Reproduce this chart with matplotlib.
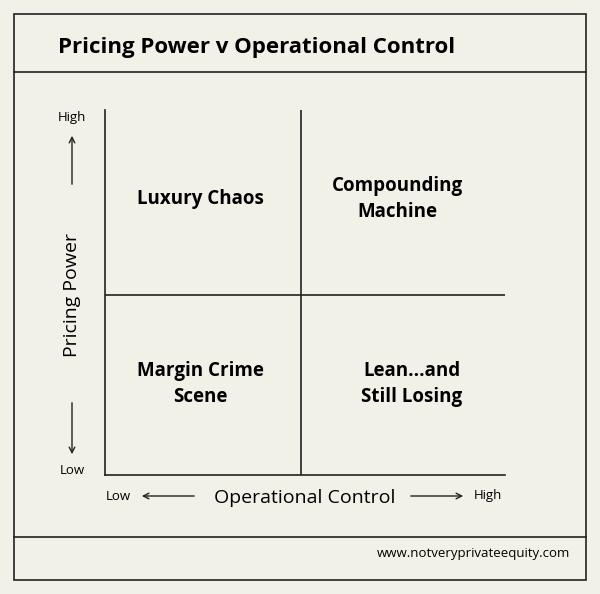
import matplotlib.pyplot as plt
from matplotlib.patches import Rectangle

plt.rcParams['font.family'] = ['Open Sans', 'DejaVu Sans']

title = "Pricing Power v Operational Control"
quadrant_labels = ["Luxury Chaos", "Compounding\nMachine", "Margin Crime\nScene", "Lean...and\nStill Losing"]
quadrant_x = [0.475, 1.46, 0.475, 1.535]
quadrant_y = [1.51, 1.51, 0.50, 0.50]
divider_x = 0.98
divider_y = 0.986
x_label = "Operational Control"
y_label = "Pricing Power"
footer = "www.notveryprivateequity.com"

W, H = 600, 594
bg = '#f2f1e8'
fig = plt.figure(figsize=(W / 100, H / 100), dpi=100, facecolor=bg)

# overlay in pixel coords for frame and annotations
ov = fig.add_axes([0, 0, 1, 1])
ov.set_xlim(0, W)
ov.set_ylim(H, 0)
ov.axis('off')
ov.add_patch(Rectangle((14, 14), 572, 566, fill=False, lw=1.2, ec='#222'))
ov.plot([14, 586], [72, 72], color='#222', lw=1.2)
ov.plot([14, 586], [537, 537], color='#222', lw=1.2)
ov.text(58, 47, title, fontsize=16, fontweight='bold', va='center', ha='left')
ov.text(570, 553, footer, fontsize=9.5, va='center', ha='right')

arr = dict(arrowstyle='->', lw=1, color='#222')
ov.text(72, 117, "High", fontsize=9.5, ha='center', va='center')
ov.annotate('', xy=(72, 133), xytext=(72, 187), arrowprops=arr)
ov.text(72, 470, "Low", fontsize=9.5, ha='center', va='center')
ov.annotate('', xy=(72, 457), xytext=(72, 400), arrowprops=arr)
ov.text(72, 295, y_label, fontsize=14, rotation=90, ha='center', va='center')
ov.text(118, 496, "Low", fontsize=9.5, ha='center', va='center')
ov.annotate('', xy=(139, 496), xytext=(197, 496), arrowprops=arr)
ov.text(305, 498, x_label, fontsize=14, ha='center', va='center')
ov.annotate('', xy=(466, 496), xytext=(408, 496), arrowprops=arr)
ov.text(488, 496, "High", fontsize=9.5, ha='center', va='center')

ax = fig.add_axes([105 / W, 1 - 475 / H, 400 / W, 365 / H])
ax.set_facecolor('none')
ax.set_xlim(0, 2)
ax.set_ylim(0, 2)
for s in ['top', 'right']:
    ax.spines[s].set_visible(False)
for s in ['left', 'bottom']:
    ax.spines[s].set_linewidth(1.2)
    ax.spines[s].set_color('#222')
ax.set_xticks([])
ax.set_yticks([])
ax.plot([divider_x, divider_x], [0, 2], color='#222', lw=1.2)
ax.plot([0, 2], [divider_y, divider_y], color='#222', lw=1.2)
for lx, ly, lab in zip(quadrant_x, quadrant_y, quadrant_labels):
    ax.text(lx, ly, lab, fontsize=13.5, fontweight='bold', ha='center', va='center', linespacing=1.4)

fig.savefig('out.png', dpi=100, facecolor=bg)
